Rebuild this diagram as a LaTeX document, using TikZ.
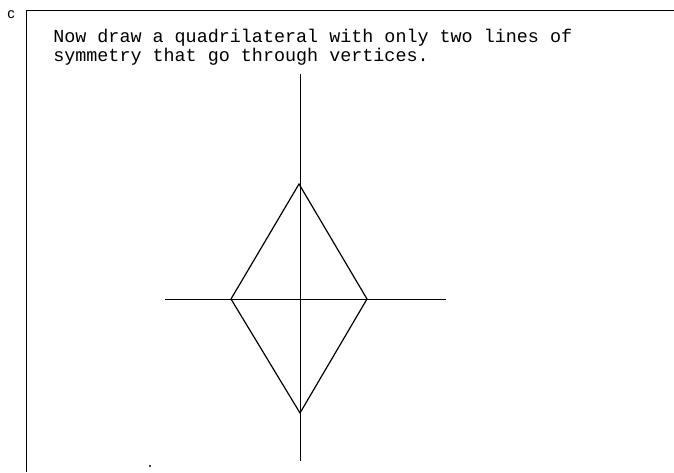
\documentclass[tikz,border=0pt]{standalone}
\usepackage{fontspec}
\usetikzlibrary{calc}
\newfontfamily\typewriter{Liberation Mono}
\newfontfamily\labelfont{Liberation Sans}

\begin{document}
\begin{tikzpicture}[x=0.75pt, y=-0.75pt]

% Styles for the sheet
\tikzstyle{axis} = [line width=0.6pt]
\tikzstyle{edge} = [line width=0.9pt, line join=miter]
\tikzstyle{task} = [inner sep=0pt, anchor=north west, align=left, font=\typewriter\fontsize{13.8}{14.3}\selectfont]

\useasboundingbox (0,0) rectangle (674,472);

% Frame of the answer box
\draw[line width=0.6pt] (674,10) -- (26,10) -- (26,472);
\node[font=\labelfont\fontsize{11}{12}\selectfont] (part) at (11,15) {c};

% Task text
\node[task] (question) at (53,29) {Now draw a quadrilateral with only two lines of\\symmetry that go through vertices.};

% Lines of symmetry
\coordinate (axtop) at (300,74);
\coordinate (axbot) at (300,461);
\coordinate (axleft) at (165,299);
\coordinate (axright) at (446,299);
\draw[axis] (axtop) -- (axbot);
\draw[axis] (axleft) -- (axright);

% Rhombus
\coordinate (top) at (299,184);
\coordinate (right) at (367,299);
\coordinate (bot) at (300,413);
\coordinate (left) at (231,299);
\draw[edge] (top) -- (right) -- (bot) -- (left) -- cycle;

% stray pencil dot
\fill (150,466) circle (0.8pt);

\end{tikzpicture}
\end{document}
